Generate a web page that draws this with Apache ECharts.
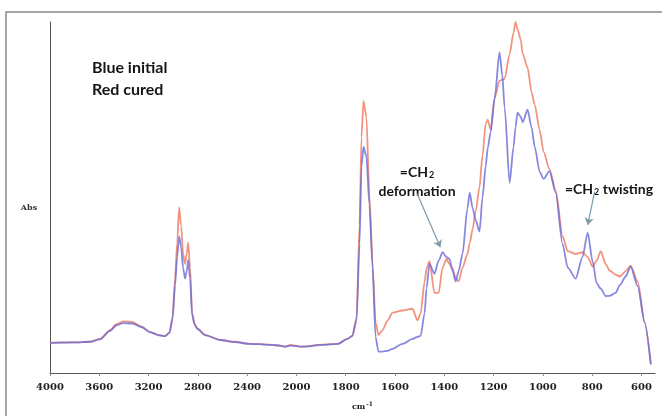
<!DOCTYPE html>
<html>
<head>
<meta charset="utf-8">
<script src="https://cdn.jsdelivr.net/npm/echarts@6/dist/echarts.min.js"></script>
<style>
  html, body { margin: 0; padding: 0; background: #fff; }
  #chart { width: 662px; height: 416px; }
</style>
</head>
<body>
<div id="chart"></div>
<script>
// FTIR spectra, wavenumber (cm-1) against absorbance
const wavenumbers = [
  4000, 3800, 3675, 3594, 3513, 3460, 3407, 3330, 3260, 3188, 3120, 3066, 3030, 3005,
  2985, 2968, 2952, 2936, 2920, 2904, 2890, 2879, 2863, 2847, 2826, 2806, 2741, 2619,
  2500, 2376, 2300, 2213, 2150, 2091, 2050, 1976, 1894, 1833, 1793, 1773, 1756, 1744,
  1736, 1728, 1716, 1704, 1691, 1679, 1667, 1651, 1630, 1610, 1570, 1529, 1509, 1496,
  1480, 1472, 1460, 1440, 1423, 1407, 1391, 1379, 1366, 1354, 1342, 1326, 1306, 1297,
  1285, 1273, 1257, 1245, 1232, 1224, 1212, 1196, 1176, 1165, 1155, 1135, 1119, 1111,
  1103, 1090, 1082, 1062, 1046, 1033, 1013, 997, 973, 948, 920, 899, 867, 839,
  818, 798, 782, 765, 745, 729, 705, 688, 664, 644, 615, 587, 562
];

// red trace: cured film
const absCured = [
  0.086, 0.087, 0.089, 0.097, 0.122, 0.139, 0.147, 0.145, 0.133, 0.117, 0.108, 0.105, 0.115, 0.160,
  0.270, 0.370, 0.472, 0.420, 0.340, 0.311, 0.340, 0.372, 0.300, 0.172, 0.140, 0.128, 0.108, 0.094,
  0.089, 0.083, 0.082, 0.081, 0.078, 0.075, 0.080, 0.075, 0.081, 0.083, 0.097, 0.106, 0.158, 0.422,
  0.672, 0.775, 0.728, 0.506, 0.311, 0.144, 0.108, 0.122, 0.150, 0.172, 0.178, 0.183, 0.150, 0.170,
  0.260, 0.297, 0.319, 0.228, 0.228, 0.300, 0.325, 0.310, 0.297, 0.270, 0.261, 0.300, 0.339, 0.370,
  0.410, 0.460, 0.530, 0.620, 0.710, 0.722, 0.694, 0.783, 0.833, 0.835, 0.839, 0.908, 0.970, 1.000,
  0.980, 0.950, 0.910, 0.870, 0.800, 0.764, 0.692, 0.630, 0.580, 0.520, 0.390, 0.347, 0.339, 0.344,
  0.330, 0.303, 0.320, 0.347, 0.310, 0.292, 0.280, 0.275, 0.290, 0.306, 0.260, 0.144, 0.025
];

// blue trace: initial film
const absInitial = [
  0.086, 0.087, 0.089, 0.096, 0.120, 0.136, 0.142, 0.141, 0.131, 0.116, 0.108, 0.105, 0.115, 0.155,
  0.250, 0.330, 0.389, 0.360, 0.300, 0.269, 0.290, 0.322, 0.270, 0.165, 0.138, 0.126, 0.108, 0.094,
  0.088, 0.083, 0.082, 0.080, 0.079, 0.075, 0.078, 0.075, 0.080, 0.083, 0.097, 0.106, 0.150, 0.367,
  0.589, 0.644, 0.617, 0.480, 0.300, 0.103, 0.061, 0.061, 0.063, 0.069, 0.083, 0.097, 0.103, 0.106,
  0.170, 0.242, 0.311, 0.283, 0.320, 0.344, 0.330, 0.325, 0.290, 0.261, 0.290, 0.339, 0.470, 0.514,
  0.470, 0.436, 0.403, 0.500, 0.589, 0.640, 0.686, 0.780, 0.914, 0.850, 0.756, 0.542, 0.644, 0.700,
  0.742, 0.730, 0.714, 0.750, 0.700, 0.644, 0.573, 0.553, 0.575, 0.514, 0.367, 0.300, 0.269, 0.331,
  0.400, 0.317, 0.256, 0.240, 0.219, 0.220, 0.228, 0.250, 0.275, 0.303, 0.247, 0.144, 0.025
];

const tickWavenumbers = [4000, 3600, 3200, 2800, 2400, 2000, 1800, 1600, 1400, 1200, 1000, 800, 600];

// The wavenumber scale halves its step below 2000 cm-1 (400 per division above, 200 below)
function toAxis(w) { return w >= 2000 ? (4000 - w) / 400 : 5 + (2000 - w) / 200; }
function fromAxis(u) { return u <= 5 ? 4000 - 400 * u : 2000 - 200 * (u - 5); }

const axisTicks = tickWavenumbers.map(toAxis);
const curedPoints = wavenumbers.map((w, i) => [toAxis(w), absCured[i]]);
const initialPoints = wavenumbers.map((w, i) => [toAxis(w), absInitial[i]]);

const arrowStyle = { color: '#7f9aab', width: 1.2, type: 'solid' };
const noteRich = {
  a: { fontFamily: 'Lato', fontWeight: 'bold', fontSize: 14, fill: '#151515' },
  s: { fontFamily: 'Lato', fontWeight: 'bold', fontSize: 9, fill: '#151515', padding: [7, 0, 0, 1] }
};

const chart = echarts.init(document.getElementById('chart'), null, { renderer: 'canvas' });
chart.setOption({
  animation: false,
  backgroundColor: '#ffffff',
  grid: { left: 50, right: 7, top: 22, bottom: 35 },
  xAxis: {
    type: 'value',
    min: 0,
    max: toAxis(545),
    name: '{b|cm}{s|-1}',
    nameLocation: 'middle',
    nameGap: 28,
    nameTextStyle: {
      padding: [0, 0, 0, 20],
      rich: {
        b: { fontFamily: 'DejaVu Serif', fontWeight: 'bold', fontSize: 8, color: '#222' },
        s: { fontFamily: 'DejaVu Serif', fontWeight: 'bold', fontSize: 6, color: '#222', verticalAlign: 'top', padding: [0, 0, 6, 1] }
      }
    },
    axisLine: { lineStyle: { color: '#555', width: 1 } },
    axisTick: { show: true, length: 3, inside: false, customValues: axisTicks, lineStyle: { color: '#888' } },
    axisLabel: {
      customValues: axisTicks,
      formatter: (u) => String(Math.round(fromAxis(u))),
      fontFamily: 'DejaVu Serif',
      fontWeight: 'bold',
      fontSize: 10,
      color: '#222',
      margin: 9
    },
    splitLine: { show: false }
  },
  yAxis: {
    type: 'value',
    min: 0,
    max: 1,
    axisLine: { show: true, lineStyle: { color: '#555', width: 1 } },
    axisTick: { show: false },
    axisLabel: { show: false },
    splitLine: { show: false }
  },
  series: [
    {
      name: 'Red cured',
      type: 'line',
      data: curedPoints,
      showSymbol: false,
      smooth: 0.25,
      smoothMonotone: 'x',
      lineStyle: { color: '#f0806a', width: 1.8, opacity: 0.85 },
      z: 2
    },
    {
      name: 'Blue initial',
      type: 'line',
      data: initialPoints,
      showSymbol: false,
      smooth: 0.25,
      smoothMonotone: 'x',
      lineStyle: { color: '#6a6cd6', width: 1.8, opacity: 0.8 },
      z: 3,
      markLine: {
        silent: true,
        symbol: ['none', 'arrow'],
        symbolSize: 7,
        label: { show: false },
        lineStyle: arrowStyle,
        data: [
          [{ coord: [toAxis(1510), 0.511] }, { coord: [toAxis(1416), 0.358] }],
          [{ coord: [toAxis(790), 0.517] }, { coord: [toAxis(818), 0.422] }]
        ]
      }
    }
  ],
  graphic: [
    {
      type: 'rect',
      shape: { x: 6, y: 12, width: 720, height: 480 },
      style: { fill: 'none', stroke: '#8a8a8a', lineWidth: 1.5 },
      silent: true
    },
    {
      type: 'text',
      x: 29, y: 208,
      style: { text: 'Abs', align: 'center', verticalAlign: 'middle', font: 'bold 8px "DejaVu Serif"', fill: '#333' }
    },
    {
      type: 'text',
      left: 92, top: 60,
      style: { text: 'Blue initial', font: 'bold 16px Lato', fill: '#151515' }
    },
    {
      type: 'text',
      left: 92, top: 82,
      style: { text: 'Red cured', font: 'bold 16px Lato', fill: '#151515' }
    },
    {
      type: 'text',
      x: 417, y: 172,
      style: { text: '{a|=CH}{s|2}', align: 'center', verticalAlign: 'middle', rich: noteRich }
    },
    {
      type: 'text',
      x: 417, y: 191,
      style: { text: 'deformation', align: 'center', verticalAlign: 'middle', font: 'bold 14px Lato', fill: '#151515' }
    },
    {
      type: 'text',
      x: 609, y: 189,
      style: { text: '{a|=CH}{s|2}{a| twisting}', align: 'center', verticalAlign: 'middle', rich: noteRich }
    }
  ]
});
</script>
</body>
</html>
